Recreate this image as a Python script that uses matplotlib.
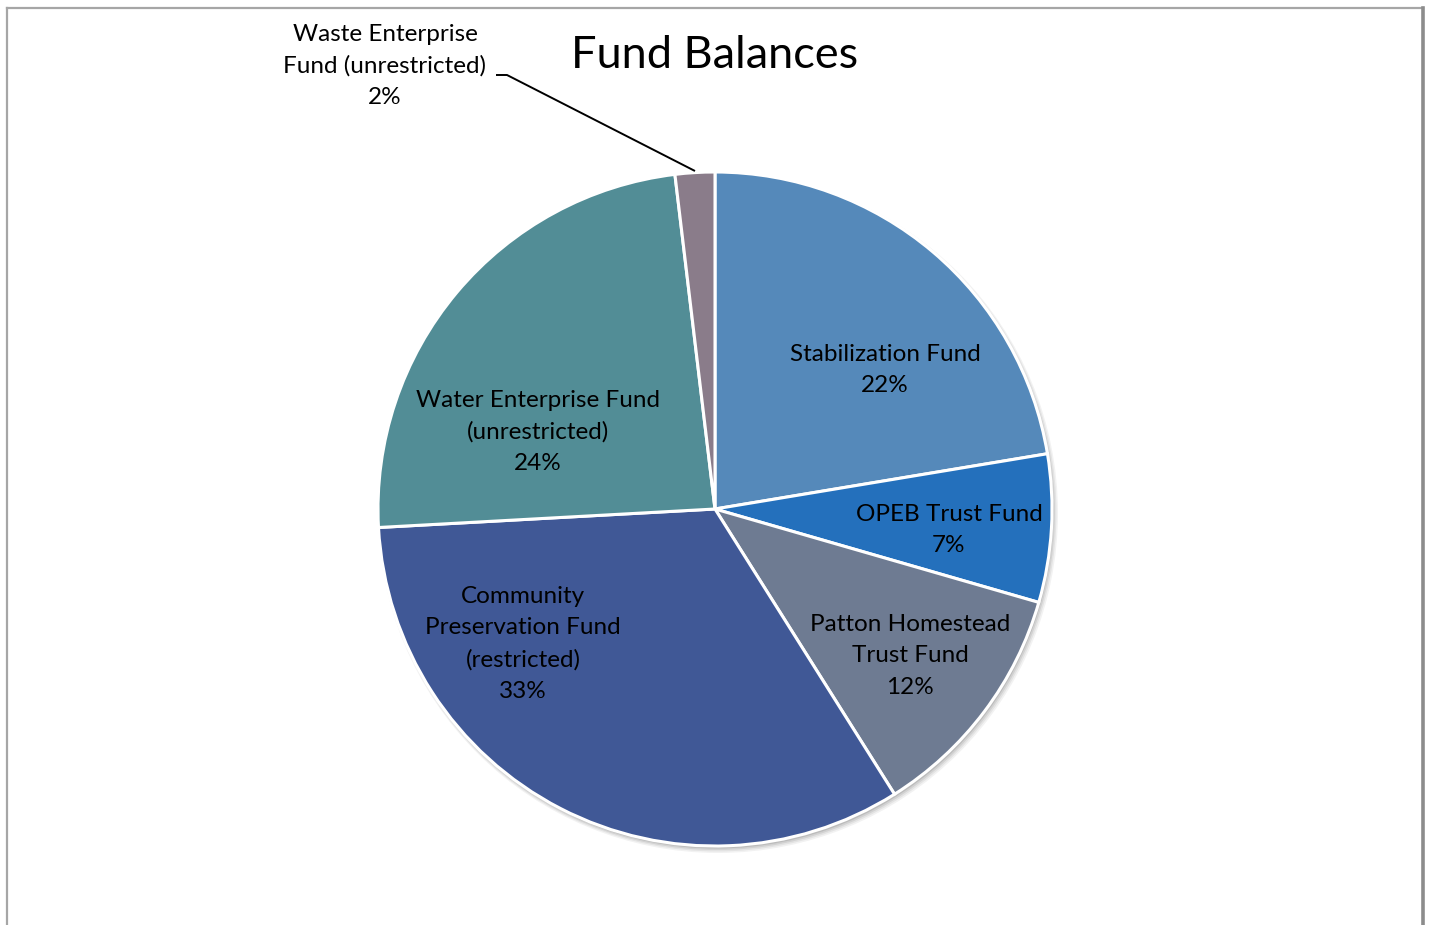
import matplotlib
matplotlib.use("Agg")
import matplotlib.pyplot as plt
from matplotlib.patches import Circle

plt.rcParams['font.family'] = ['Lato', 'DejaVu Sans']

# Fund balance shares (percent of total)
funds = [
    "Stabilization Fund",
    "OPEB Trust Fund",
    "Patton Homestead\nTrust Fund",
    "Community\nPreservation Fund\n(restricted)",
    "Water Enterprise Fund\n(unrestricted)",
    "Waste Enterprise\nFund (unrestricted)",
]
shares = [22.4, 7.1, 11.6, 33.1, 24.0, 1.9]
colors = ["#5589BA", "#2470BC", "#6E7B92", "#405896", "#528D96", "#8A7C8A"]

W, H = 1429, 925
fig = plt.figure(figsize=(W / 100, H / 100), dpi=100)
ax = fig.add_axes([0, 0, 1, 1])
ax.set_xlim(0, W)
ax.set_ylim(0, H)
ax.set_aspect("equal")
ax.axis("off")

cx, cy, r = 715, H - 509, 337

# soft drop shadow under the pie
for k, a in enumerate([0.05, 0.06, 0.08, 0.10]):
    ax.add_patch(Circle((cx + 3 - k * 0.5, cy - 4 + k * 0.5), r + 3 - k, color="#000000",
                        alpha=a, lw=0, zorder=1))

wedges, _ = ax.pie(shares, colors=colors, startangle=90, counterclock=False,
                   center=(cx, cy), radius=r, frame=True,
                   wedgeprops=dict(edgecolor="white", linewidth=2.2, zorder=2))
ax.set_xlim(0, W)
ax.set_ylim(0, H)
ax.axis("off")

# label placement (pixel positions of text centres, measured from the top)
label_pos = [(885, 370), (949, 530), (910, 656), (523, 644), (538, 432), (385, 66)]
for name, val, (x, y) in zip(funds, shares, label_pos):
    ax.text(x, H - y, f"{name}\n{round(val)}%", ha="center", va="center",
            fontsize=17.5, color="black", linespacing=1.6, zorder=5)

# leader line for the small slice
ax.plot([496, 507, 695], [H - 75, H - 75, H - 171], color="black", lw=1.4,
        solid_capstyle="butt", zorder=5)

ax.text(715, H - 56, "Fund Balances", ha="center", va="center", fontsize=32.5,
        color="black", zorder=5)

# chart frame
ax.plot([7.5, 1423], [H - 7.5, H - 7.5], color="#A6A6A6", lw=1.6, zorder=6)
ax.plot([7.5, 7.5], [H - 7.5, 0], color="#A6A6A6", lw=1.6, zorder=6)
ax.plot([1423, 1423], [H - 7.5, 0], color="#8C8C8C", lw=2.6, zorder=6)

fig.savefig("out.png", dpi=100)
